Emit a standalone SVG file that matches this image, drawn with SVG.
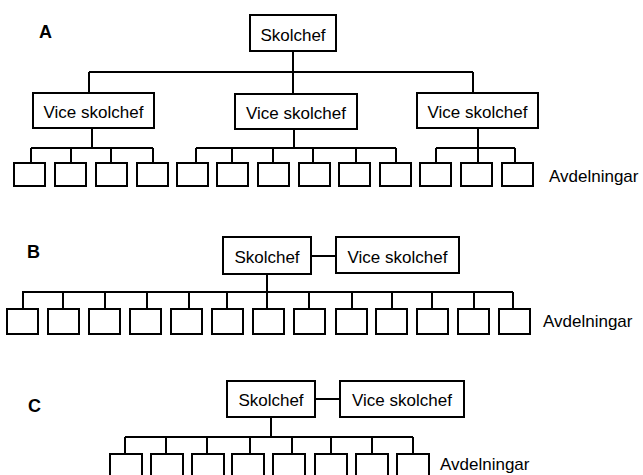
<svg xmlns="http://www.w3.org/2000/svg" width="643" height="475" viewBox="0 0 643 475">
<style>
rect{fill:#fff;stroke:#000;stroke-width:2}
.c line,.c polyline{stroke:#000;stroke-width:2;fill:none}
text{font-family:"Liberation Sans",Arial,sans-serif;font-size:17px;fill:#000}
.n{text-anchor:middle}
.lab{font-weight:bold;font-size:18px}
</style>
<rect x="0" y="0" width="643" height="475" style="stroke:none"/>
<text class="lab" x="39" y="38">A</text>
<text class="lab" x="27" y="258">B</text>
<text class="lab" x="28" y="412">C</text>

<g class="c" id="connectors">
<!-- A -->
<line x1="293" y1="51" x2="293" y2="94"/>
<line x1="89" y1="72" x2="473" y2="72"/>
<line x1="89" y1="72" x2="89" y2="93"/>
<line x1="473" y1="72" x2="473" y2="93"/>
<line x1="92" y1="128" x2="92" y2="148"/>
<line x1="31" y1="148" x2="153" y2="148"/>
<line x1="31" y1="148" x2="31" y2="163"/><line x1="71" y1="148" x2="71" y2="163"/><line x1="111" y1="148" x2="111" y2="163"/><line x1="153" y1="148" x2="153" y2="163"/>
<line x1="294" y1="129" x2="294" y2="148"/>
<line x1="196" y1="148" x2="396" y2="148"/>
<line x1="196" y1="148" x2="196" y2="163"/><line x1="232" y1="148" x2="232" y2="163"/><line x1="273" y1="148" x2="273" y2="163"/><line x1="313" y1="148" x2="313" y2="163"/><line x1="356" y1="148" x2="356" y2="163"/><line x1="396" y1="148" x2="396" y2="163"/>
<line x1="478" y1="128" x2="478" y2="148"/>
<line x1="436" y1="148" x2="515" y2="148"/>
<line x1="436" y1="148" x2="436" y2="163"/><line x1="478" y1="148" x2="478" y2="163"/><line x1="515" y1="148" x2="515" y2="163"/>
<!-- B -->
<line x1="311" y1="256" x2="336" y2="256"/>
<line x1="267" y1="274" x2="267" y2="309"/>
<line x1="22" y1="292" x2="513" y2="292"/>
<line x1="23" y1="292" x2="23" y2="309"/><line x1="63" y1="292" x2="63" y2="309"/><line x1="105" y1="292" x2="105" y2="309"/><line x1="147" y1="292" x2="147" y2="309"/><line x1="189" y1="292" x2="189" y2="309"/><line x1="227" y1="292" x2="227" y2="309"/><line x1="309" y1="292" x2="309" y2="309"/><line x1="352" y1="292" x2="352" y2="309"/><line x1="392" y1="292" x2="392" y2="309"/><line x1="432" y1="292" x2="432" y2="309"/><line x1="474" y1="292" x2="474" y2="309"/><line x1="513" y1="292" x2="513" y2="309"/>
<!-- C -->
<line x1="315" y1="399" x2="340" y2="399"/>
<line x1="271" y1="417" x2="271" y2="437"/>
<line x1="125" y1="437" x2="413" y2="437"/>
<line x1="125" y1="437" x2="125" y2="454"/><line x1="166" y1="437" x2="166" y2="454"/><line x1="207" y1="437" x2="207" y2="454"/><line x1="250" y1="437" x2="250" y2="454"/><line x1="292" y1="437" x2="292" y2="454"/><line x1="331" y1="437" x2="331" y2="454"/><line x1="372" y1="437" x2="372" y2="454"/><line x1="413" y1="437" x2="413" y2="454"/>
</g>

<!-- A nodes -->
<g id="a-skolchef"><rect x="250" y="15" width="86" height="36"/><text class="n" x="293" y="41">Skolchef</text></g>
<g id="a-vice1"><rect x="33" y="93" width="121" height="35"/><text class="n" x="93.5" y="118">Vice skolchef</text></g>
<g id="a-vice2"><rect x="235" y="94" width="122" height="35"/><text class="n" x="296" y="119">Vice skolchef</text></g>
<g id="a-vice3"><rect x="417" y="93" width="121" height="35"/><text class="n" x="477.5" y="118">Vice skolchef</text></g>
<g id="a-depts">
<rect x="14" y="163" width="31" height="23"/><rect x="55" y="163" width="31" height="23"/><rect x="96" y="163" width="31" height="23"/><rect x="137" y="163" width="31" height="23"/>
<rect x="177" y="163" width="31" height="23"/><rect x="217" y="163" width="31" height="23"/><rect x="258" y="163" width="31" height="23"/><rect x="299" y="163" width="31" height="23"/><rect x="339" y="163" width="31" height="23"/><rect x="380" y="163" width="31" height="23"/>
<rect x="420" y="163" width="31" height="23"/><rect x="461" y="163" width="31" height="23"/><rect x="502" y="163" width="31" height="23"/>
<text x="549" y="182">Avdelningar</text>
</g>

<!-- B nodes -->
<g id="b-skolchef"><rect x="223" y="237" width="88" height="37"/><text class="n" x="267" y="263">Skolchef</text></g>
<g id="b-vice"><rect x="336" y="237" width="123" height="36"/><text class="n" x="397.5" y="263">Vice skolchef</text></g>
<g id="b-depts">
<rect x="7" y="309" width="31" height="25"/><rect x="48" y="309" width="31" height="25"/><rect x="89" y="309" width="31" height="25"/><rect x="130" y="309" width="31" height="25"/><rect x="171" y="309" width="31" height="25"/><rect x="212" y="309" width="31" height="25"/><rect x="253" y="309" width="31" height="25"/><rect x="294" y="309" width="31" height="25"/><rect x="336" y="309" width="31" height="25"/><rect x="376" y="309" width="31" height="25"/><rect x="417" y="309" width="31" height="25"/><rect x="458" y="309" width="31" height="25"/><rect x="499" y="309" width="31" height="25"/>
<text x="543" y="327">Avdelningar</text>
</g>

<!-- C nodes -->
<g id="c-skolchef"><rect x="227" y="381" width="88" height="36"/><text class="n" x="271" y="406">Skolchef</text></g>
<g id="c-vice"><rect x="340" y="381" width="124" height="36"/><text class="n" x="402" y="406">Vice skolchef</text></g>
<g id="c-depts">
<rect x="110" y="454" width="32" height="30"/><rect x="151" y="454" width="32" height="30"/><rect x="192" y="454" width="32" height="30"/><rect x="232" y="454" width="32" height="30"/><rect x="273" y="454" width="32" height="30"/><rect x="315" y="454" width="32" height="30"/><rect x="356" y="454" width="32" height="30"/><rect x="397" y="454" width="32" height="30"/>
<text x="440" y="470">Avdelningar</text>
</g>
</svg>
